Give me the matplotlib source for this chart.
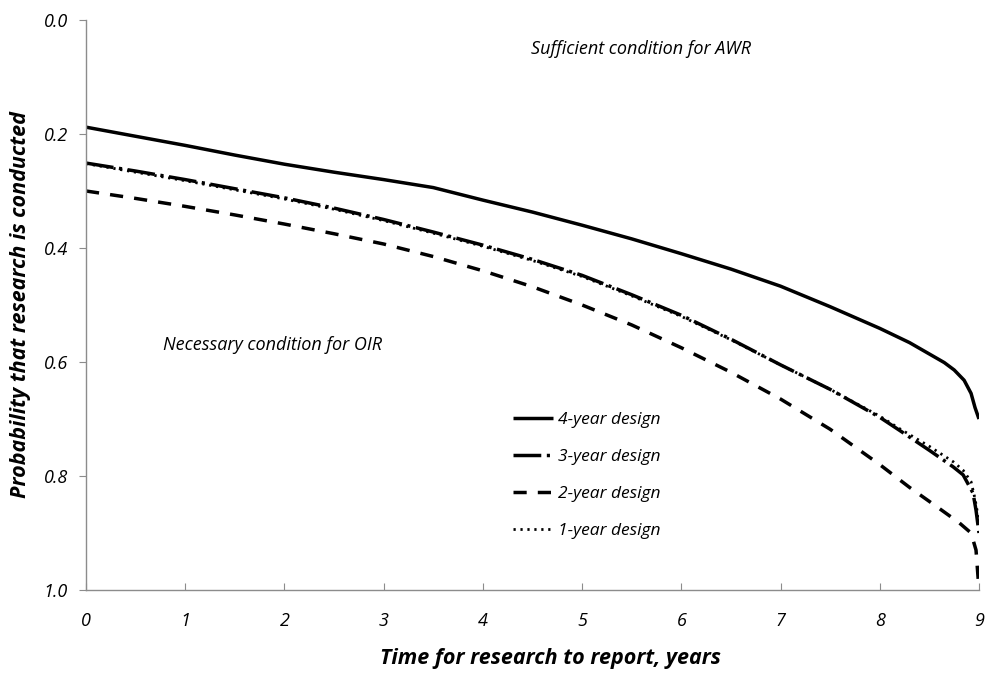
import matplotlib
matplotlib.use("Agg")
import matplotlib.pyplot as plt

# ---- data ----
x_4yr = [0, 0.5, 1, 1.5, 2, 2.5, 3, 3.5, 4, 4.5, 5, 5.5, 6, 6.5, 7, 7.5, 8, 8.3, 8.5, 8.65, 8.75, 8.85, 8.92, 8.96, 9.0]
y_4yr = [0.188, 0.204, 0.220, 0.237, 0.253, 0.267, 0.280, 0.294, 0.316, 0.337, 0.360, 0.384, 0.410, 0.437, 0.467, 0.503, 0.541, 0.566, 0.586, 0.601, 0.614, 0.632, 0.655, 0.680, 0.700]

x_3yr = [0, 0.5, 1, 1.5, 2, 2.5, 3, 3.5, 4, 4.5, 5, 5.5, 6, 6.5, 7, 7.5, 8, 8.2, 8.5, 8.74, 8.84, 8.94, 8.97, 9.0]
y_3yr = [0.251, 0.265, 0.280, 0.296, 0.312, 0.330, 0.350, 0.372, 0.395, 0.420, 0.448, 0.482, 0.518, 0.560, 0.605, 0.648, 0.697, 0.720, 0.755, 0.784, 0.798, 0.830, 0.860, 0.900]

x_2yr = [0, 0.5, 1, 1.5, 2, 2.5, 3, 3.5, 4, 4.5, 5, 5.5, 6, 6.5, 7, 7.5, 8, 8.3, 8.6, 8.8, 8.92, 8.97, 9.0]
y_2yr = [0.300, 0.313, 0.327, 0.342, 0.358, 0.375, 0.393, 0.415, 0.440, 0.468, 0.500, 0.535, 0.575, 0.618, 0.665, 0.718, 0.780, 0.820, 0.857, 0.882, 0.900, 0.930, 1.000]

x_1yr = [0, 0.5, 1, 1.5, 2, 2.5, 3, 3.5, 4, 4.5, 5, 5.5, 6, 6.5, 7, 7.5, 8, 8.2, 8.5, 8.74, 8.84, 8.92, 8.96, 9.0]
y_1yr = [0.252, 0.267, 0.282, 0.298, 0.314, 0.332, 0.352, 0.374, 0.397, 0.422, 0.450, 0.484, 0.520, 0.561, 0.605, 0.648, 0.695, 0.717, 0.748, 0.775, 0.790, 0.810, 0.840, 0.880]

labels = ["4-year design", "3-year design", "2-year design", "1-year design"]
x_ticks = [0, 1, 2, 3, 4, 5, 6, 7, 8, 9]
y_ticks = [0.0, 0.2, 0.4, 0.6, 0.8, 1.0]

plt.rcParams['font.family'] = ['Open Sans', 'DejaVu Sans']

fig = plt.figure(figsize=(9.87, 6.82), dpi=100)
ax = fig.add_axes([86/987, 1 - 590/682, (979-86)/987, (590-20)/682])

ax.plot(x_4yr, y_4yr, color='black', lw=2.5, solid_capstyle='butt', label=labels[0])
ax.plot(x_3yr, y_3yr, color='black', lw=2.5, dashes=(8, 1.6, 0.9, 1.6), label=labels[1])
ax.plot(x_2yr, y_2yr, color='black', lw=2.5, dashes=(3.8, 3.2), label=labels[2])
ax.plot(x_1yr, y_1yr, color='black', lw=2.0, dashes=(0.8, 1.7), label=labels[3])

ax.set_xlim(0, 9)
ax.set_ylim(1.0, 0.0)
ax.set_xticks(x_ticks)
ax.set_yticks(y_ticks)
ax.set_xticklabels([str(v) for v in x_ticks], fontstyle='italic', fontsize=13)
ax.set_yticklabels([f"{v:.1f}" for v in y_ticks], fontstyle='italic', fontsize=13)

for s in ['top', 'right']:
    ax.spines[s].set_visible(False)
for s in ['left', 'bottom']:
    ax.spines[s].set_color('#8c8c8c')
    ax.spines[s].set_linewidth(1.0)
ax.tick_params(axis='x', direction='in', length=5, color='#8c8c8c', pad=16)
ax.tick_params(axis='y', direction='out', length=5, color='#8c8c8c', pad=8)

ax.set_xlabel("Time for research to report, years", fontstyle='italic', fontweight='bold', fontsize=15.5)
ax.set_ylabel("Probability that research is conducted", fontstyle='italic', fontweight='bold', fontsize=15.5)
ax.xaxis.set_label_coords((550 - 86) / 893, -(648 - 590) / 570)
ax.yaxis.set_label_coords(-(86 - 31) / 893, 0.5)

ax.text(4.48, 0.05, "Sufficient condition for AWR", fontstyle='italic', fontsize=13, va='center', ha='left')
ax.text(0.78, 0.57, "Necessary condition for OIR", fontstyle='italic', fontsize=13, va='center', ha='left')

leg = ax.legend(loc='upper left', bbox_to_anchor=((497-86)/893, 1 - (396-20)/570), frameon=False,
                handlelength=2.3, handletextpad=0.3, labelspacing=1.2,
                prop={'style': 'italic', 'size': 12.5})

fig.savefig("out.png", dpi=100)
